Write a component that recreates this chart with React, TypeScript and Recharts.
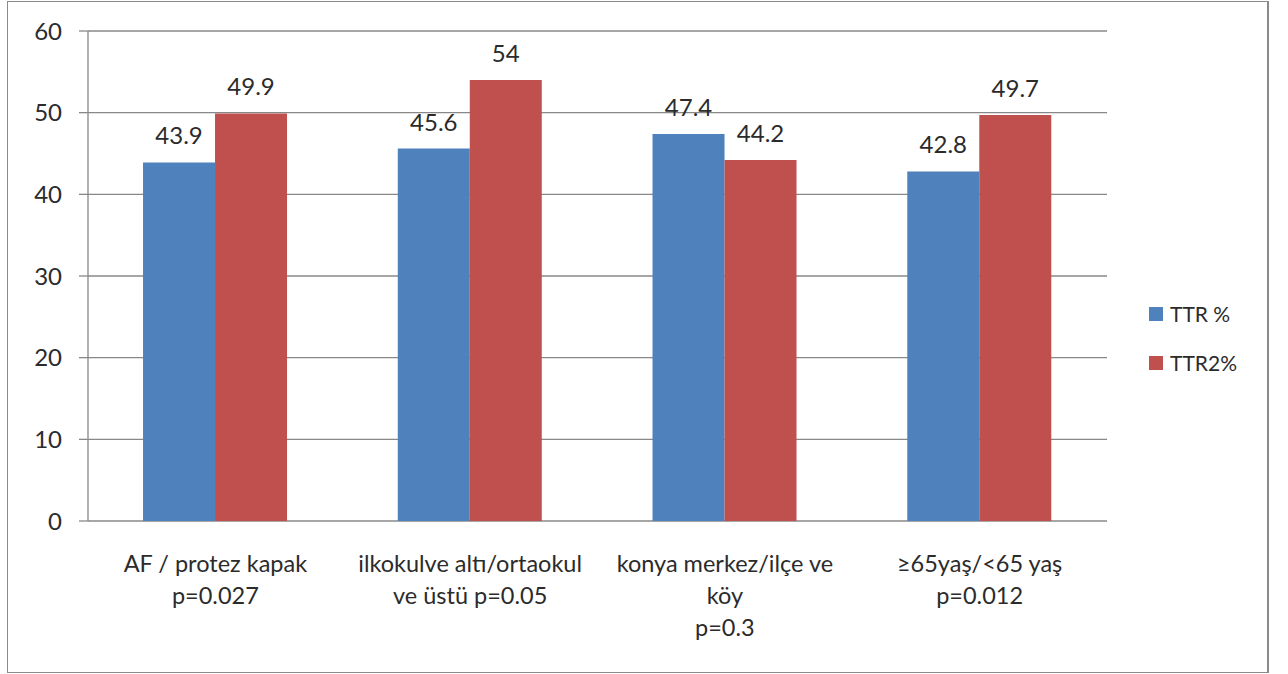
import React from 'react';
import { BarChart, Bar, XAxis, YAxis, CartesianGrid, Legend, LabelList } from 'recharts';

const categories = [
  'AF / protez kapak\np=0.027',
  'ilkokulve altı/ortaokul\nve üstü p=0.05',
  'konya merkez/ilçe ve\nköy\np=0.3',
  '≥65yaş/<65 yaş\np=0.012',
];
const ttr = [43.9, 45.6, 47.4, 42.8];
const ttr2 = [49.9, 54, 44.2, 49.7];
const yTicks = [0, 10, 20, 30, 40, 50, 60];
const edgeTicks = [0, 1, 2, 3, 4];

const data = categories.map((c, i) => ({ name: c, ttr: ttr[i], ttr2: ttr2[i] }));

const TEXT = '#2b2b2b';
const GRID = '#888888';

const CatTick = (props: any) => {
  const { x, y, payload } = props;
  const lines = String(payload.value).split('\n');
  return (
    <text x={x} y={y} textAnchor="middle" fill={TEXT} fontSize={23.5}>
      {lines.map((l, i) => (
        <tspan key={i} x={x} dy={i === 0 ? 51 : 32}>
          {l}
        </tspan>
      ))}
    </text>
  );
};

const LegendContent = (props: any) => {
  const { payload } = props;
  return (
    <div>
      {(payload || []).map((e: any, i: number) => (
        <div key={i} style={{ display: 'flex', alignItems: 'center', height: 49 }}>
          <span style={{ display: 'inline-block', width: 14, height: 14, background: e.color, marginRight: 7 }} />
          <span style={{ fontSize: 21, color: TEXT }}>{e.value}</span>
        </div>
      ))}
    </div>
  );
};

export default function App() {
  return (
    <div style={{ position: 'absolute', left: 0, top: 0, width: 1288, height: 674, background: '#fff', fontFamily: 'Lato' }}>
      <div
        style={{
          position: 'absolute',
          left: 7,
          top: 1,
          width: 1262,
          height: 672,
          border: '1px solid #8a8a8a',
          borderRight: '2px solid #8a8a8a',
          boxSizing: 'border-box',
        }}
      />
      <BarChart
        width={1288}
        height={674}
        data={data}
        margin={{ top: 31, right: 181, left: 0, bottom: 0 }}
        barCategoryGap="21.6%"
        barGap={0}
      >
        <CartesianGrid vertical={false} stroke={GRID} strokeWidth={1.3} />
        <XAxis
          xAxisId="edge"
          type="number"
          domain={[0, 4]}
          ticks={edgeTicks}
          interval={0}
          height={0}
          tickSize={8}
          axisLine={{ stroke: GRID, strokeWidth: 1.3 }}
          tickLine={{ stroke: GRID, strokeWidth: 1.3 }}
          tick={() => <g />}
        />
        <XAxis
          dataKey="name"
          height={153}
          tickSize={0}
          tickMargin={0}
          interval={0}
          axisLine={false}
          tickLine={false}
          tick={<CatTick />}
        />
        <YAxis
          width={88}
          domain={[0, 60]}
          ticks={yTicks}
          interval={0}
          tickSize={9}
          tickMargin={17}
          axisLine={{ stroke: GRID, strokeWidth: 1.3 }}
          tickLine={{ stroke: GRID, strokeWidth: 1.3 }}
          tick={{ fill: TEXT, fontSize: 24 }}
        />
        <Legend
          layout="vertical"
          align="center"
          verticalAlign="middle"
          wrapperStyle={{ left: 1149, top: 289, width: 130 }}
          content={<LegendContent />}
        />
        <Bar dataKey="ttr" name="TTR %" fill="#4F81BD" isAnimationActive={false}>
          <LabelList dataKey="ttr" position="top" offset={18} fill={TEXT} fontSize={24} />
        </Bar>
        <Bar dataKey="ttr2" name="TTR2%" fill="#C0504D" isAnimationActive={false}>
          <LabelList dataKey="ttr2" position="top" offset={18} fill={TEXT} fontSize={24} />
        </Bar>
      </BarChart>
    </div>
  );
}
